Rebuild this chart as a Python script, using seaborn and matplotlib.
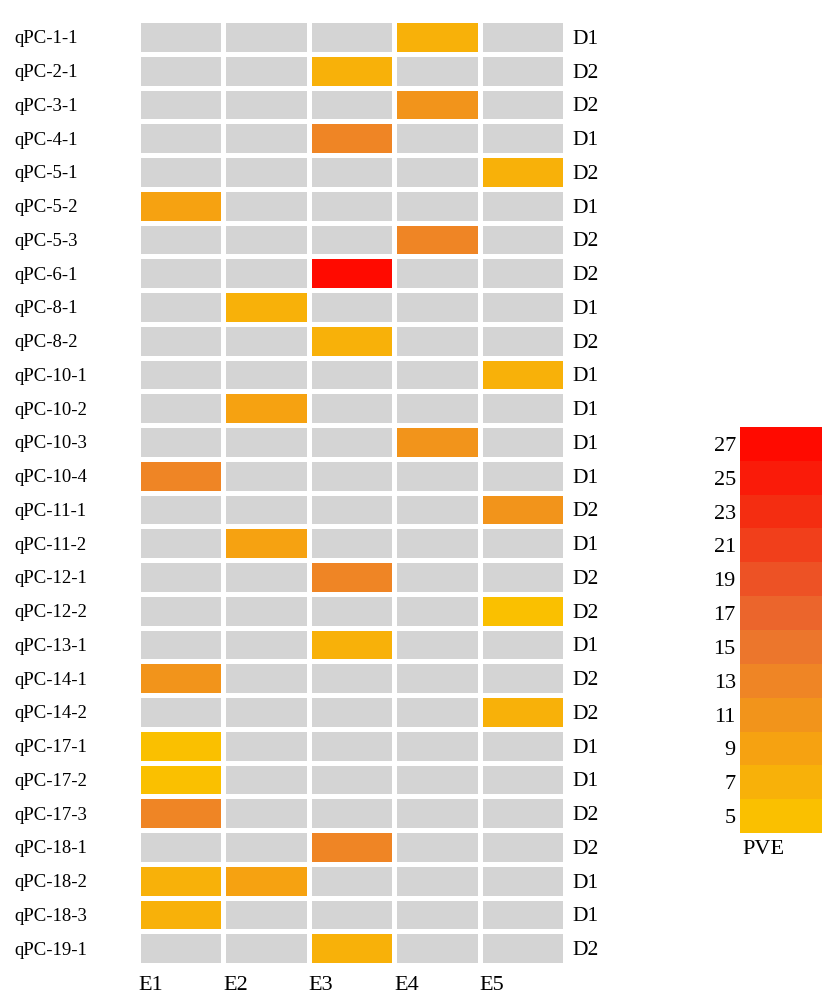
import numpy as np
import pandas as pd
import matplotlib
matplotlib.use("Agg")
import matplotlib.pyplot as plt
import seaborn as sns
from matplotlib.colors import LinearSegmentedColormap, ListedColormap, BoundaryNorm

# QTL rows (top to bottom) and the environment in which each was detected
qtl_names = ["qPC-1-1", "qPC-2-1", "qPC-3-1", "qPC-4-1", "qPC-5-1", "qPC-5-2",
             "qPC-5-3", "qPC-6-1", "qPC-8-1", "qPC-8-2", "qPC-10-1", "qPC-10-2",
             "qPC-10-3", "qPC-10-4", "qPC-11-1", "qPC-11-2", "qPC-12-1", "qPC-12-2",
             "qPC-13-1", "qPC-14-1", "qPC-14-2", "qPC-17-1", "qPC-17-2", "qPC-17-3",
             "qPC-18-1", "qPC-18-2", "qPC-18-3", "qPC-19-1"]
qtl_group = ["D1", "D2", "D2", "D1", "D2", "D1", "D2", "D2", "D1", "D2", "D1", "D1",
             "D1", "D1", "D2", "D1", "D2", "D2", "D1", "D2", "D2", "D1", "D1", "D2",
             "D2", "D1", "D1", "D2"]
environments = ["E1", "E2", "E3", "E4", "E5"]

# detected QTL x environment cells with their phenotypic variance explained (%)
cell_qtl = ["qPC-1-1", "qPC-2-1", "qPC-3-1", "qPC-4-1", "qPC-5-1", "qPC-5-2",
            "qPC-5-3", "qPC-6-1", "qPC-8-1", "qPC-8-2", "qPC-10-1", "qPC-10-2",
            "qPC-10-3", "qPC-10-4", "qPC-11-1", "qPC-11-2", "qPC-12-1", "qPC-12-2",
            "qPC-13-1", "qPC-14-1", "qPC-14-2", "qPC-17-1", "qPC-17-2", "qPC-17-3",
            "qPC-18-1", "qPC-18-2", "qPC-18-2", "qPC-18-3", "qPC-19-1"]
cell_env = ["E4", "E3", "E4", "E3", "E5", "E1",
            "E4", "E3", "E2", "E3", "E5", "E2",
            "E4", "E1", "E5", "E2", "E3", "E5",
            "E3", "E1", "E5", "E1", "E1", "E1",
            "E3", "E1", "E2", "E1", "E3"]
cell_pve = [7, 6, 11, 13, 6, 8,
            13, 26, 6, 7, 7, 8,
            10, 13, 11, 8, 13, 5,
            6, 11, 7, 5, 5, 13,
            13, 7, 8, 6, 6]

pve_ticks = [5, 7, 9, 11, 13, 15, 17, 19, 21, 23, 25, 27]

plt.rcParams["font.family"] = ["Liberation Serif", "DejaVu Serif"]

table = (pd.DataFrame({"qtl": cell_qtl, "env": cell_env, "pve": cell_pve})
         .pivot(index="qtl", columns="env", values="pve")
         .reindex(index=qtl_names, columns=environments))

# stepped yellow-to-red scale, one band per two PVE units
base = LinearSegmentedColormap.from_list(
    "pve", ["#FAC000", "#F6A410", "#F08A22", "#EA6E30", "#EE4C22", "#F52A10", "#FF0A00"])
bounds = np.arange(4, 30, 2)
cmap = ListedColormap([base(i / (len(bounds) - 2)) for i in range(len(bounds) - 1)])
norm = BoundaryNorm(bounds, cmap.N)

fig = plt.figure(figsize=(8.22, 9.98), dpi=100)
W, H = 822, 998
ax = fig.add_axes([138 / W, 1 - 965 / H, 427 / W, 945 / H])
cax = fig.add_axes([740 / W, 1 - 833 / H, 100 / W, 406 / H])

sns.heatmap(np.zeros(table.shape), cmap=ListedColormap(["#D4D4D4"]), cbar=False,
            linewidths=2.2, linecolor="white", ax=ax)
sns.heatmap(table, mask=table.isna(), cmap=cmap, norm=norm, linewidths=2.2,
            linecolor="white", ax=ax, cbar=True, cbar_ax=cax)

# row labels on the left, left aligned
ax.set_yticks(np.arange(len(qtl_names)) + 0.5)
ax.set_yticklabels(qtl_names, rotation=0, fontsize=13.5, ha="left", va="center_baseline")
ax.tick_params(axis="y", length=0, pad=(138 - 14) * 72 / 100)

# environment labels under the left edge of each column
ax.set_xticks(np.arange(len(environments)))
ax.set_xticklabels(environments, rotation=0, fontsize=16, ha="left")
ax.tick_params(axis="x", length=0, pad=8)
ax.set_xlabel("")
ax.set_ylabel("")

# group labels on the right
ax2 = ax.twinx()
ax2.set_ylim(ax.get_ylim())
ax2.set_yticks(np.arange(len(qtl_names)) + 0.5)
ax2.set_yticklabels(qtl_group, fontsize=15.5, va="center_baseline")
ax2.tick_params(axis="y", length=0, pad=5)
for sp in ax2.spines.values():
    sp.set_visible(False)

# colour bar
cbar = ax.collections[-1].colorbar
cbar.set_ticks(pve_ticks)
cbar.outline.set_visible(False)
cax.minorticks_off()
cax.yaxis.set_ticks_position("left")
cax.tick_params(which="both", length=0, labelsize=16, pad=3)
fig.text(763 / W, 1 - 850 / H, "PVE", ha="center", va="center", fontsize=16)

fig.savefig("out.png", dpi=100, facecolor="white")
